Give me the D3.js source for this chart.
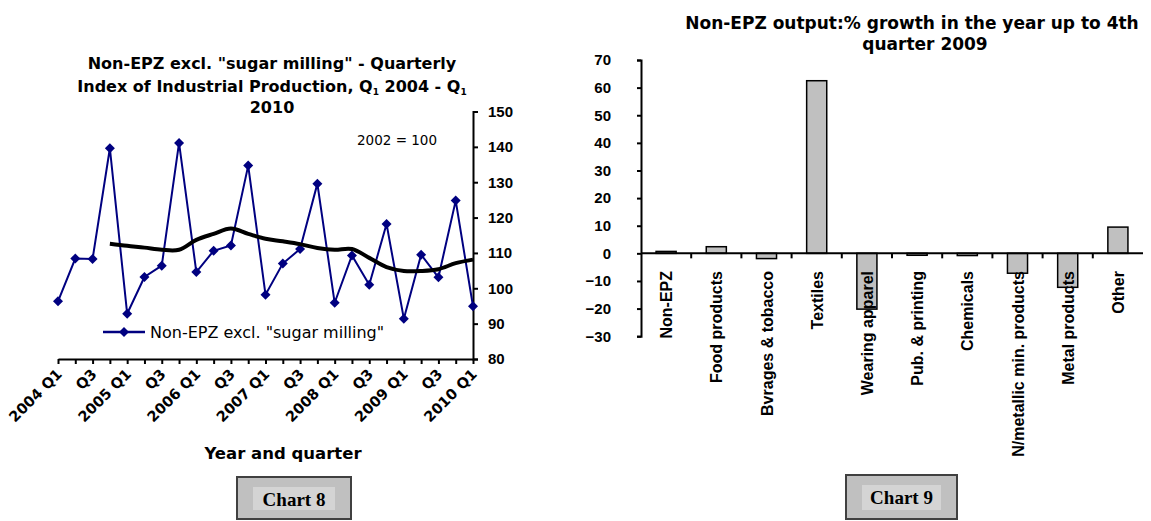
<!DOCTYPE html>
<html>
<head>
<meta charset="utf-8">
<script src="https://cdn.jsdelivr.net/npm/d3@7"></script>
<style>
  body { margin: 0; background: #fff; }
  text { font-family: "Liberation Sans", Arial, sans-serif; }
  .wide { font-family: "DejaVu Sans", Verdana, sans-serif; }
</style>
</head>
<body>
<script>
// Chart 8 data: quarterly index, 2004 Q1 - 2010 Q1
var quarters = ["2004 Q1","2004 Q2","2004 Q3","2004 Q4","2005 Q1","2005 Q2","2005 Q3","2005 Q4",
  "2006 Q1","2006 Q2","2006 Q3","2006 Q4","2007 Q1","2007 Q2","2007 Q3","2007 Q4",
  "2008 Q1","2008 Q2","2008 Q3","2008 Q4","2009 Q1","2009 Q2","2009 Q3","2009 Q4","2010 Q1"];
var quarterLabels = ["2004 Q1","","Q3","","2005 Q1","","Q3","","2006 Q1","","Q3","","2007 Q1","",
  "Q3","","2008 Q1","","Q3","","2009 Q1","","Q3","","2010 Q1"];
var indexValues = [96.3,108.4,108.3,139.6,92.8,103.2,106.4,141.1,104.6,110.6,112.1,134.7,98.2,
  107.0,111.1,129.6,95.9,109.3,101.0,118.2,91.4,109.5,103.1,124.8,94.9];
var trendValues = [null,null,null,112.6,112.0,111.5,110.9,110.9,113.7,115.4,116.9,115.4,114.0,
  113.3,112.5,111.4,110.9,111.1,108.6,106.0,104.9,104.9,105.4,107.1,108.1];
var indexTicks = [80,90,100,110,120,130,140,150];

// Chart 9 data: % growth by sector
var sectors = ["Non-EPZ","Food products","Bvrages & tobacco","Textiles","Wearing apparel",
  "Pub. & printing","Chemicals","N/metallic min. products","Metal products","Other"];
var growth = [0.7,2.4,-1.9,62.5,-20.2,-0.7,-0.8,-7.2,-12.3,9.5];
var growthTicks = [-30,-20,-10,0,10,20,30,40,50,60,70];

var W = 1151, H = 521;
var svg = d3.select("body").append("svg")
    .attr("width", W)
    .attr("height", H);
svg.append("rect").attr("width", W).attr("height", H).attr("fill", "#fff");

// ---------- Chart 8 ----------
var left = svg.append("g");
var x8 = d3.scalePoint().domain(quarters).range([58, 473]);
var y8 = d3.scaleLinear().domain([80, 150]).range([359, 111.5]);

var tt = left.append("g").attr("class", "wide").attr("font-weight", "bold").attr("font-size", "16px")
    .attr("text-anchor", "middle");
tt.append("text").attr("class", "wide").attr("x", 272).attr("y", 69)
    .text('Non-EPZ excl. "sugar milling" - Quarterly');
var t2 = tt.append("text").attr("class", "wide").attr("x", 272).attr("y", 91.5);
t2.append("tspan").text("Index of Industrial Production, Q");
t2.append("tspan").attr("font-size", "9px").attr("dy", 3).text("1");
t2.append("tspan").attr("dy", -3).text(" 2004 - Q");
t2.append("tspan").attr("font-size", "9px").attr("dy", 3).text("1");
tt.append("text").attr("class", "wide").attr("x", 272).attr("y", 113).text("2010");

left.append("text").attr("class", "wide").attr("x", 357).attr("y", 145)
    .attr("font-size", "13.5px").text("2002 = 100");

// right axis
var yAxis8 = left.append("g")
    .attr("transform", "translate(473,0)")
    .call(d3.axisRight(y8).tickValues(indexTicks).tickSize(5).tickPadding(10));
yAxis8.select(".domain").attr("stroke-width", 2);
yAxis8.selectAll(".tick line").attr("stroke-width", 2);
yAxis8.selectAll("text").attr("font-size", "15px").attr("font-weight", "bold")
    .attr("font-family", "Liberation Sans, Arial, sans-serif");

// bottom axis
var xAxis8 = left.append("g")
    .attr("transform", "translate(0,359)")
    .call(d3.axisBottom(x8).tickSize(5).tickSizeOuter(0).tickFormat(""));
xAxis8.select(".domain").attr("stroke-width", 2);
xAxis8.selectAll(".tick line").attr("stroke-width", 2);

left.append("g").selectAll("text")
    .data(quarters.filter(function (d, i) { return quarterLabels[i] !== ""; }))
    .enter()
    .append("text")
    .attr("class", "wide")
    .attr("transform", function (d) {
        return "translate(" + (x8(d) + 5) + ",375) rotate(-45)";
    })
    .attr("text-anchor", "end")
    .attr("font-size", "14.5px")
    .attr("font-weight", "bold")
    .text(function (d) { return quarterLabels[quarters.indexOf(d)]; });

left.append("text").attr("class", "wide").attr("x", 283).attr("y", 459).attr("text-anchor", "middle")
    .attr("font-size", "16.5px").attr("font-weight", "bold").text("Year and quarter");

// series
var line8 = d3.line()
    .x(function (d, i) { return x8(quarters[i]); })
    .y(function (d) { return y8(d); });
left.append("path").datum(indexValues)
    .attr("d", line8)
    .attr("fill", "none")
    .attr("stroke", "#000080")
    .attr("stroke-width", 2);

var diamond = d3.symbol().type(d3.symbolSquare).size(50);
left.selectAll(".pt").data(indexValues).enter().append("path")
    .attr("class", "pt")
    .attr("d", diamond)
    .attr("fill", "#000080")
    .attr("transform", function (d, i) {
        return "translate(" + x8(quarters[i]) + "," + y8(d) + ") rotate(45)";
    });

var trendLine = d3.line()
    .defined(function (d) { return d !== null; })
    .x(function (d, i) { return x8(quarters[i]); })
    .y(function (d) { return y8(d); })
    .curve(d3.curveCatmullRom);
left.append("path").datum(trendValues)
    .attr("d", trendLine)
    .attr("fill", "none")
    .attr("stroke", "#000")
    .attr("stroke-width", 4);

// legend
left.append("line").attr("x1", 103).attr("x2", 145).attr("y1", 332).attr("y2", 332)
    .attr("stroke", "#000080").attr("stroke-width", 2.5);
left.append("path").attr("d", diamond).attr("fill", "#000080")
    .attr("transform", "translate(124,332) rotate(45)");
left.append("text").attr("class", "wide").attr("x", 150).attr("y", 338).attr("font-size", "16px")
    .text('Non-EPZ excl. "sugar milling"');

// ---------- Chart 9 ----------
var right = svg.append("g");
var x9 = d3.scaleBand().domain(sectors).range([641, 1143]).paddingInner(0.6).paddingOuter(0.3);
var y9 = d3.scaleLinear().domain([-30, 70]).range([336.2, 60]);

var tr = right.append("g").attr("font-weight", "bold").attr("font-size", "17px")
    .attr("text-anchor", "middle");
tr.append("text").attr("class", "wide").attr("x", 912).attr("y", 29)
    .text("Non-EPZ output:% growth in the year up to 4th");
tr.append("text").attr("class", "wide").attr("x", 925).attr("y", 50).text("quarter 2009");

var yAxis9 = right.append("g")
    .attr("transform", "translate(641,0)")
    .call(d3.axisLeft(y9).tickValues(growthTicks).tickSize(4).tickPadding(26));
yAxis9.select(".domain").attr("stroke-width", 2);
yAxis9.selectAll(".tick line").attr("stroke-width", 2);
yAxis9.selectAll("text").attr("font-size", "15px").attr("font-weight", "bold")
    .attr("font-family", "Liberation Sans, Arial, sans-serif");

right.selectAll(".bar").data(growth).enter().append("rect")
    .attr("class", "bar")
    .attr("x", function (d, i) { return x9(sectors[i]); })
    .attr("width", x9.bandwidth())
    .attr("y", function (d) { return y9(Math.max(0, d)); })
    .attr("height", function (d) { return Math.abs(y9(d) - y9(0)); })
    .attr("fill", "#c0c0c0")
    .attr("stroke", "#000")
    .attr("stroke-width", 1.5);

// zero line with category ticks
right.append("line").attr("x1", 641).attr("x2", 1143)
    .attr("y1", y9(0)).attr("y2", y9(0))
    .attr("stroke", "#000").attr("stroke-width", 2);
right.selectAll(".ctick").data(sectors.slice(1)).enter().append("line")
    .attr("class", "ctick")
    .attr("x1", function (d) { return x9(d) - x9.step() * 0.3; })
    .attr("x2", function (d) { return x9(d) - x9.step() * 0.3; })
    .attr("y1", y9(0)).attr("y2", y9(0) + 5)
    .attr("stroke", "#000").attr("stroke-width", 2);

right.selectAll(".clabel").data(sectors).enter().append("text")
    .attr("class", "clabel")
    .attr("transform", function (d) {
        return "translate(" + (x9(d) + x9.bandwidth() / 2 + 6) + ",271) rotate(-90)";
    })
    .attr("text-anchor", "end")
    .attr("font-size", "16px")
    .attr("font-weight", "bold")
    .text(function (d) { return d; });

// ---------- chart caption boxes ----------
function captionBox(x, y, w, h, label) {
    var g = svg.append("g");
    g.append("rect").attr("x", x).attr("y", y).attr("width", w).attr("height", h)
        .attr("fill", "#c0c0c0").attr("stroke", "#404040").attr("stroke-width", 2);
    g.append("rect").attr("x", x + 16).attr("y", y + 10).attr("width", w - 32).attr("height", h - 19)
        .attr("fill", "#d4d4d4");
    g.append("text").attr("x", x + w / 2).attr("y", y + 29).attr("text-anchor", "middle")
        .style("font-family", "Liberation Serif, Times New Roman, serif")
        .attr("font-weight", "bold").attr("font-size", "19px").text(label);
}
captionBox(237, 477, 114, 42, "Chart 8");
captionBox(846, 475, 111, 44, "Chart 9");
</script>
</body>
</html>
